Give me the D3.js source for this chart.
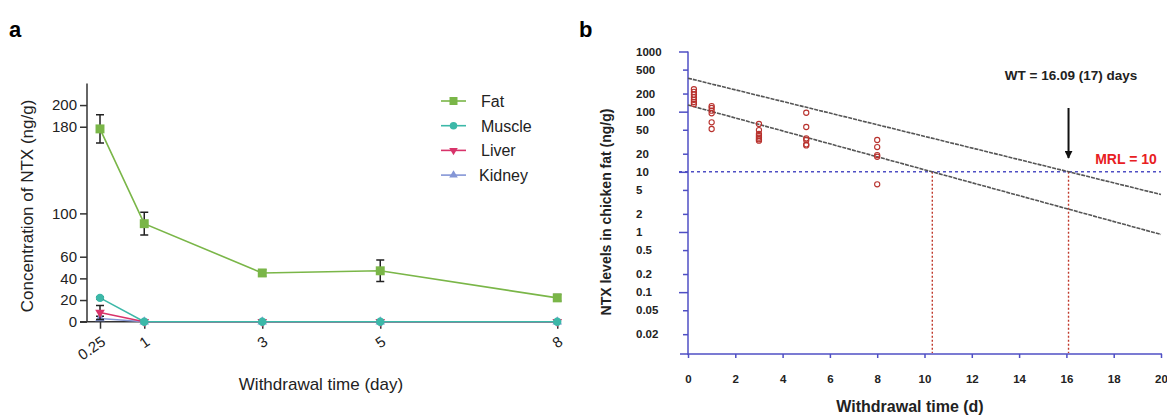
<!DOCTYPE html>
<html><head><meta charset="utf-8">
<script src="https://cdn.jsdelivr.net/npm/d3@7"></script>
<style>body{margin:0;background:#fff}svg{display:block}</style>
</head><body>
<svg id="c" width="1167" height="417"></svg>
<script>
// ---------- Panel a data ----------
const daysA = [0.25, 1, 3, 5, 8];
const dayLabelsA = ["0.25", "1", "3", "5", "8"];
const fatMean = [178, 90.5, 45, 47, 22];
const fatErr = [13, 10.5, 3, 10, 3];
const muscleMean = [22, 0, 0, 0, 0];
const muscleErr = [1, 0, 0, 0, 0];
const liverMean = [8.5, 0, 0, 0, 0];
const liverErr = [6.5, 0, 0, 0, 0];
const kidneyMean = [3, 0, 0, 0, 0];
const kidneyErr = [2, 0, 0, 0, 0];
const yTicksA = [0, 20, 40, 60, 100, 180, 200];
const seriesNames = ["Fat", "Muscle", "Liver", "Kidney"];

// ---------- Panel b data ----------
const obsDays = [0.25,0.25,0.25,0.25,0.25,0.25,0.25, 1,1,1,1,1,1, 3,3,3,3,3,3,3, 5,5,5,5,5,5, 8,8,8,8,8];
const obsConc = [236,213,192,174,157,145,134, 124,115,104,94,66.5,51.5, 62.4,49.5,42.5,39.4,36.9,34.7,32.9, 96,55.6,36,33.8,28.6,27.5, 33.8,25.8,19,17.8,6.2];
const regLineDays = [0, 20];
const upperLine = [360, 4.2];
const lowerLine = [129, 0.91];
const mrl = 10;
const wtLower = 10.33;
const wtUpper = 16.09;
const yTicksBMajor = [1000, 100, 10, 1, 0.1];
const yTicksBMinor = [500, 200, 50, 20, 5, 2, 0.5, 0.2, 0.05, 0.02];
const yTickLabelsB = ["1000","500","200","100","50","20","10","5","2","1","0.5","0.2","0.1","0.05","0.02"];
const yTickValsB = [1000,500,200,100,50,20,10,5,2,1,0.5,0.2,0.1,0.05,0.02];
const xTicksB = [0,2,4,6,8,10,12,14,16,18,20];

const svg = d3.select("#c");
svg.append("rect").attr("width",1167).attr("height",417).attr("fill","#fff");

// ================= Panel a =================
const fontA = "'Liberation Sans', Arial, sans-serif";
const xA = d3.scaleLinear().domain([0, 8]).range([85.25, 557.25]);
const yA = d3.scaleLinear().domain([0, 220]).range([321.7, 83.4]);
const axisCol = "#333";

svg.append("text").attr("x", 9).attr("y", 37).attr("font-family", fontA)
  .attr("font-weight", "bold").attr("font-size", 22).text("a");

const gYA = svg.append("g").attr("transform", "translate(87,0)")
  .call(d3.axisLeft(yA).tickValues(yTicksA).tickSize(7).tickPadding(3).tickFormat(d3.format("d")));
gYA.select(".domain").attr("d", "M0," + yA(220) + "V" + yA(0)).attr("stroke", axisCol).attr("stroke-width", 1.5);
gYA.selectAll(".tick line").attr("stroke", axisCol).attr("stroke-width", 1.5);
gYA.selectAll(".tick text").attr("font-family", fontA).attr("font-size", 15).attr("fill", "#222");

const gXA = svg.append("g").attr("transform", "translate(0," + yA(0) + ")")
  .call(d3.axisBottom(xA).tickValues(daysA).tickSize(7).tickFormat((d,i) => dayLabelsA[i]));
gXA.select(".domain").attr("d", "M80,0H" + xA(8)).attr("stroke", axisCol).attr("stroke-width", 1.5);
gXA.selectAll(".tick line").attr("stroke", axisCol).attr("stroke-width", 1.5);
gXA.selectAll(".tick text").attr("font-family", fontA).attr("font-size", 15).attr("fill", "#222")
  .attr("text-anchor", "end").attr("x", 0).attr("y", 0).attr("dy", "0.35em")
  .attr("transform", "translate(3,18) rotate(-35)");

svg.append("text").attr("transform", "translate(33,206) rotate(-90)")
  .attr("text-anchor", "middle").attr("font-family", fontA).attr("font-size", 17).attr("fill", "#222")
  .text("Concentration of NTX (ng/g)");
svg.append("text").attr("x", 321).attr("y", 390).attr("text-anchor", "middle")
  .attr("font-family", fontA).attr("font-size", 17).attr("fill", "#222")
  .text("Withdrawal time (day)");

const seriesA = [
  {name: "Fat", mean: fatMean, err: fatErr, color: "#7ab648", sym: d3.symbolSquare, size: 80, rot: 0},
  {name: "Muscle", mean: muscleMean, err: muscleErr, color: "#3cb8a8", sym: d3.symbolCircle, size: 55, rot: 0},
  {name: "Liver", mean: liverMean, err: liverErr, color: "#d8336a", sym: d3.symbolTriangle, size: 40, rot: 180},
  {name: "Kidney", mean: kidneyMean, err: kidneyErr, color: "#8496d6", sym: d3.symbolTriangle, size: 40, rot: 0}
];
const drawOrder = [3, 2, 0, 1];
const lineA = d3.line().x(d => xA(d[0])).y(d => yA(d[1]));
drawOrder.forEach(si => {
  const s = seriesA[si];
  const pts = daysA.map((d, i) => [d, s.mean[i], s.err[i]]);
  const g = svg.append("g");
  g.append("path").attr("d", lineA(pts)).attr("fill", "none").attr("stroke", s.color).attr("stroke-width", 1.6);
  pts.forEach(p => {
    if (p[2] > 0) {
      const x = xA(p[0]), y1 = yA(p[1] + p[2]), y2 = yA(Math.max(0, p[1] - p[2]));
      g.append("path").attr("d", `M${x},${y1}V${y2}M${x-4},${y1}H${x+4}M${x-4},${y2}H${x+4}`)
        .attr("stroke", "#222").attr("stroke-width", 1.5).attr("fill", "none");
    }
  });
  g.selectAll("path.m").data(pts).enter().append("path").attr("class", "m")
    .attr("d", d3.symbol().type(s.sym).size(s.size))
    .attr("transform", p => `translate(${xA(p[0])},${yA(p[1])}) rotate(${s.rot})`)
    .attr("fill", s.color);
});

// legend
seriesA.forEach((s, i) => {
  const y = 101 + i * 24.7;
  const g = svg.append("g");
  g.append("line").attr("x1", 441).attr("x2", 466).attr("y1", y).attr("y2", y).attr("stroke", s.color).attr("stroke-width", 1.6);
  g.append("path").attr("d", d3.symbol().type(s.sym).size(s.size * 0.8)).attr("fill", s.color)
    .attr("transform", `translate(453.5,${y}) rotate(${s.rot})`);
  g.append("text").attr("x", i === 3 ? 479 : 481).attr("y", y + 6).attr("font-family", fontA).attr("font-size", 16)
    .attr("fill", "#222").text(s.name);
});

// ================= Panel b =================
const fontB = "'Liberation Sans', Arial, sans-serif";
const blue = "#4f4fc4";
const xB = d3.scaleLinear().domain([0, 20]).range([688, 1161]);
const yB = d3.scaleLog().domain([0.01, 1000]).range([352.3, 51.5]);

svg.append("text").attr("x", 579).attr("y", 37).attr("font-family", fontA)
  .attr("font-weight", "bold").attr("font-size", 22).text("b");

// y axis
const gYB = svg.append("g").attr("transform", "translate(688,0)");
gYB.append("line").attr("x1", 0).attr("x2", 0).attr("y1", yB(1000)).attr("y2", 355).attr("stroke", blue).attr("stroke-width", 1.5);
gYB.call(g => {
  const ax = d3.axisLeft(yB).tickValues(yTicksBMajor).tickSize(9).tickFormat("");
  g.append("g").call(ax).call(gg => gg.select(".domain").remove())
    .selectAll("line").attr("stroke", blue).attr("stroke-width", 1.5);
  const ax2 = d3.axisLeft(yB).tickValues(yTicksBMinor).tickSize(5).tickFormat("");
  g.append("g").call(ax2).call(gg => gg.select(".domain").remove())
    .selectAll("line").attr("stroke", blue).attr("stroke-width", 1.5);
});
svg.append("g").selectAll("text").data(yTickValsB).enter().append("text")
  .attr("x", 636).attr("y", d => yB(d) + 4).attr("font-family", fontB).attr("font-weight", "bold")
  .attr("font-size", 11.5).attr("fill", "#222").text((d, i) => yTickLabelsB[i]);

// x axis
const gXB = svg.append("g").attr("transform", "translate(0,354)")
  .call(d3.axisBottom(xB).tickValues(xTicksB).tickSize(4).tickPadding(17).tickFormat(d3.format("d")));
gXB.select(".domain").attr("d", "M680,0H1162").attr("stroke", blue).attr("stroke-width", 1.5);
gXB.selectAll(".tick line").attr("stroke", blue).attr("stroke-width", 1.5);
gXB.selectAll(".tick text").attr("font-family", fontB).attr("font-weight", "bold").attr("font-size", 11.5).attr("fill", "#222");

svg.append("text").attr("transform", "translate(611,212) rotate(-90)").attr("text-anchor", "middle")
  .attr("font-family", fontB).attr("font-weight", "bold").attr("font-size", 14).attr("fill", "#222")
  .text("NTX levels in chicken fat (ng/g)");
svg.append("text").attr("x", 910).attr("y", 412).attr("text-anchor", "middle")
  .attr("font-family", fontB).attr("font-weight", "bold").attr("font-size", 16).attr("fill", "#222")
  .text("Withdrawal time (d)");

// MRL line
svg.append("line").attr("x1", 679).attr("x2", 1161).attr("y1", yB(mrl)).attr("y2", yB(mrl))
  .attr("stroke", blue).attr("stroke-width", 1.4).attr("stroke-dasharray", "3,3");

// vertical red dotted lines
[wtLower, wtUpper].forEach(d => {
  svg.append("line").attr("x1", xB(d)).attr("x2", xB(d)).attr("y1", yB(mrl)).attr("y2", 353)
    .attr("stroke", "#c0392b").attr("stroke-width", 1.4).attr("stroke-dasharray", "2,2");
});

// regression lines
const lineB = d3.line().x(d => xB(d[0])).y(d => yB(d[1]));
[upperLine, lowerLine].forEach(L => {
  svg.append("path").attr("d", lineB(regLineDays.map((d, i) => [d, L[i]])))
    .attr("fill", "none").attr("stroke", "#555").attr("stroke-width", 1.6).attr("stroke-dasharray", "4,1");
});

// observations
svg.append("g").selectAll("circle").data(obsDays.map((d, i) => [d, obsConc[i]])).enter().append("circle")
  .attr("cx", d => xB(d[0])).attr("cy", d => yB(d[1])).attr("r", 2.6)
  .attr("fill", "none").attr("stroke", "#b8322e").attr("stroke-width", 1.1);

// arrow + annotations
const ax = xB(wtUpper);
svg.append("defs").append("marker").attr("id", "ah").attr("viewBox", "0 0 10 10").attr("refX", 9).attr("refY", 5)
  .attr("markerWidth", 4).attr("markerHeight", 4).attr("orient", "auto")
  .append("path").attr("d", "M0,0L10,5L0,10z").attr("fill", "#111");
svg.append("line").attr("x1", ax).attr("x2", ax).attr("y1", 108).attr("y2", 158)
  .attr("stroke", "#111").attr("stroke-width", 2).attr("marker-end", "url(#ah)");
svg.append("text").attr("x", 1071).attr("y", 80).attr("text-anchor", "middle")
  .attr("font-family", fontB).attr("font-weight", "bold").attr("font-size", 13.5).attr("fill", "#222")
  .text("WT = 16.09 (17) days");
svg.append("text").attr("x", 1126).attr("y", 164).attr("text-anchor", "middle")
  .attr("font-family", fontB).attr("font-weight", "bold").attr("font-size", 14).attr("fill", "#e8201f")
  .text("MRL = 10");
</script>
</body></html>
